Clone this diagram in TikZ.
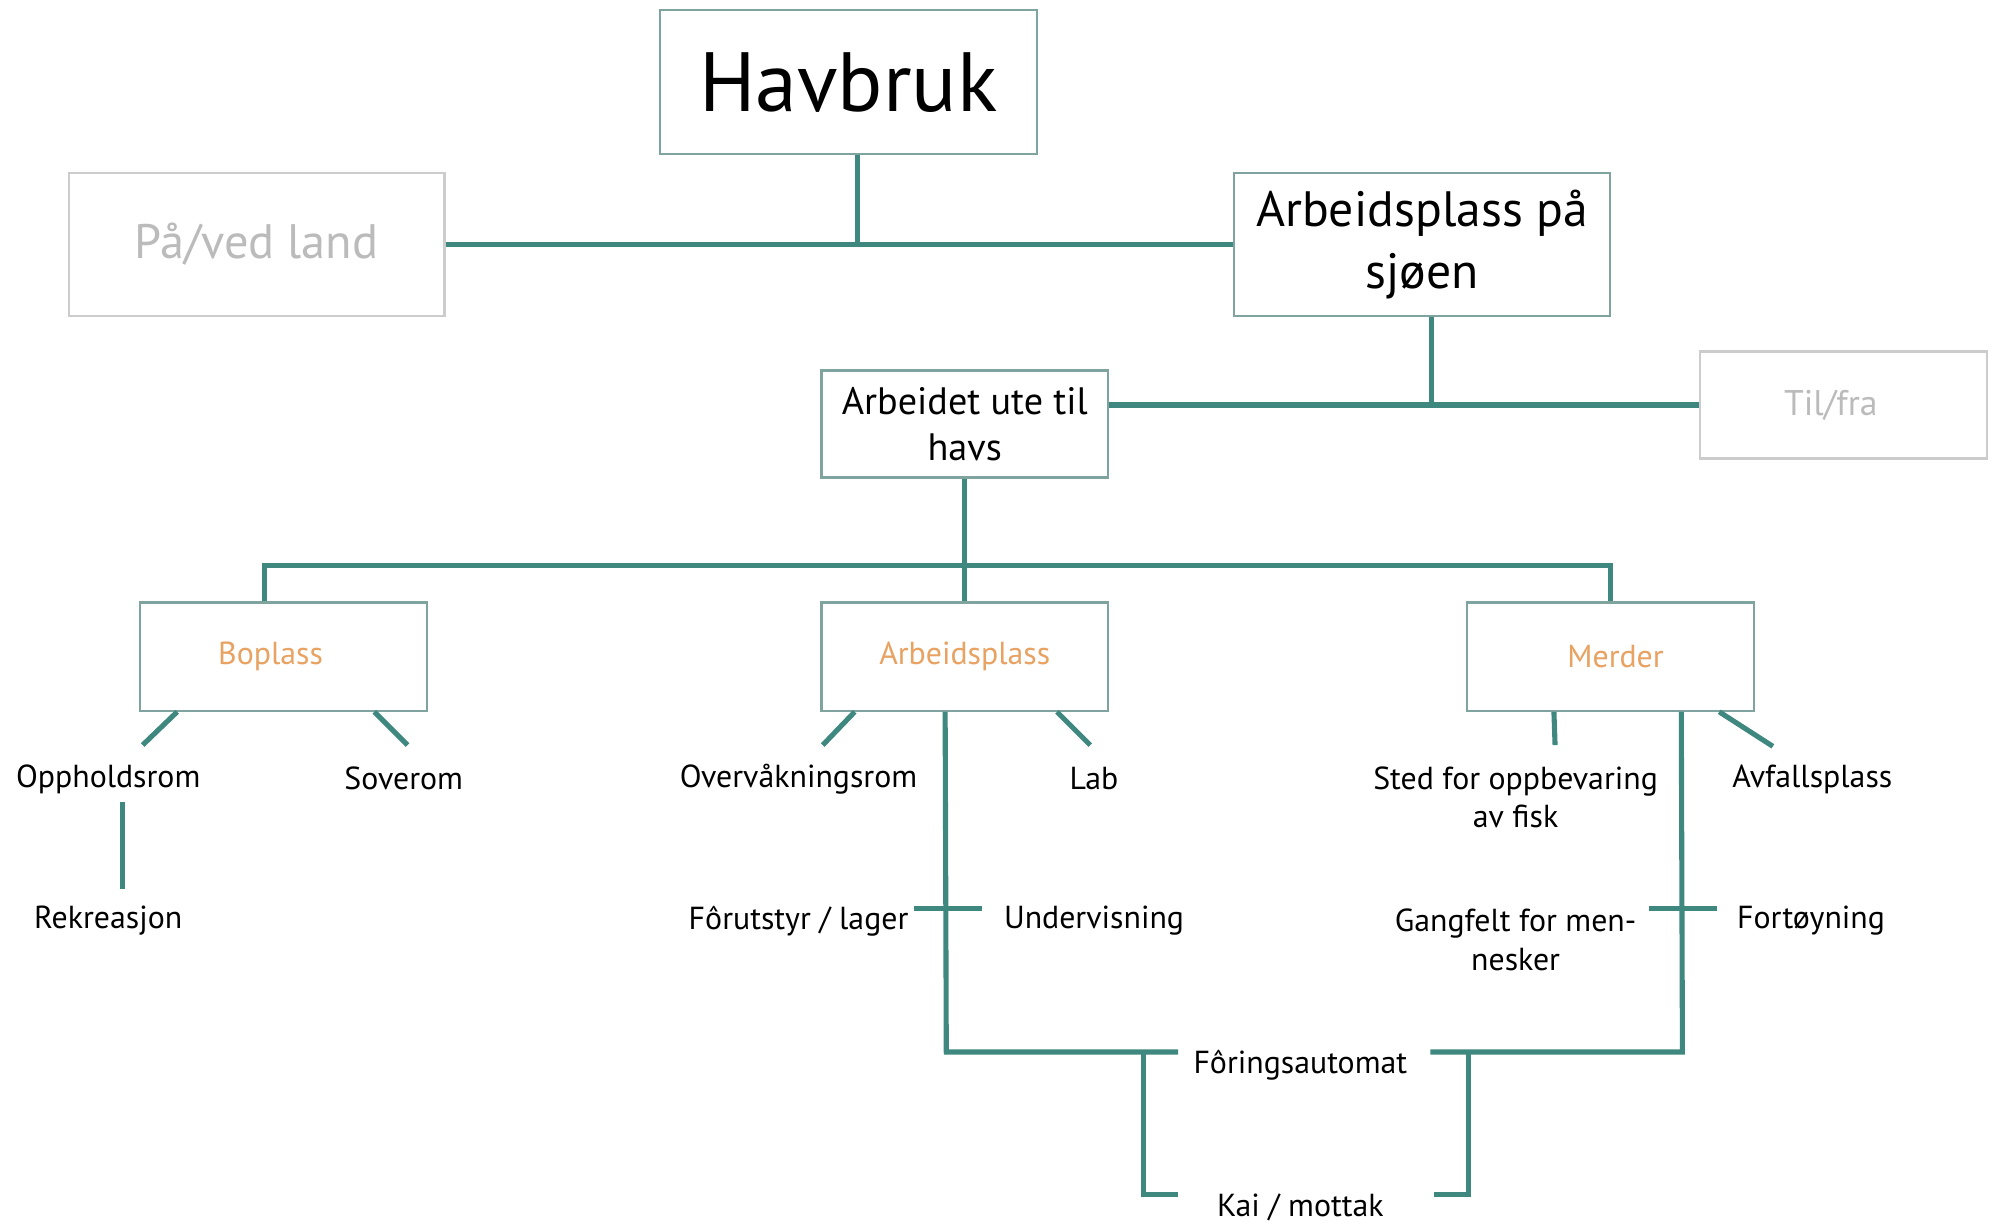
\documentclass[tikz,border=0pt]{standalone}
\usepackage{fontspec}
\setmainfont{PT Sans}
\definecolor{teal1}{HTML}{3F8880}
\definecolor{boxb}{HTML}{7FA39F}
\definecolor{grayb}{HTML}{CCCCCC}
\definecolor{grayt}{HTML}{BBBBBB}
\definecolor{orng}{HTML}{E8A262}
\begin{document}
\begin{tikzpicture}[x=0.5pt,y=-0.5pt,
  conn/.style={draw=teal1,line width=2pt},
  mainbox/.style={draw=boxb,line width=0.9pt,inner sep=0pt,align=center,text=black},
  greybox/.style={draw=grayb,line width=0.9pt,inner sep=0pt,align=center,text=grayt},
  subbox/.style={draw=boxb,line width=0.9pt,inner sep=0pt,align=center,text=orng,font=\fontsize{12.5}{15}\selectfont,minimum width=112.5pt,minimum height=42.5pt},
  lbl/.style={inner sep=0pt,align=center,font=\fontsize{12.5}{15}\selectfont,text=black}]
\useasboundingbox (0,0) rectangle (1568,960);
\fill[white] (0,0) rectangle (1568,960);
% boxes
\node[mainbox,minimum width=148pt,minimum height=56.5pt,font=\fontsize{33}{38}\selectfont] (hav) at (666,64.5) {Havbruk};
\node[greybox,minimum width=147.5pt,minimum height=56pt,font=\fontsize{19}{23}\selectfont] (land) at (201.5,192) {På/ved land};
\node[mainbox,minimum width=147.5pt,minimum height=56pt,font=\fontsize{19.5}{24}\selectfont] (sjo) at (1116.5,192) {Arbeidsplass på\\sjøen};
\node[mainbox,minimum width=112.5pt,minimum height=42pt,font=\fontsize{15}{18}\selectfont] (ute) at (757.5,333) {Arbeidet ute til\\havs};
\node[greybox,minimum width=112.5pt,minimum height=42pt,font=\fontsize{14}{17}\selectfont] (til) at (1447.5,318) {Til/fra\hspace*{10pt}};
\node[subbox] (bo) at (222.5,515.5) {Boplass\hspace*{10pt}};
\node[subbox] (arb) at (757.5,515.5) {Arbeidsplass};
\node[subbox] (mer) at (1264.5,515.5) {\hspace*{4pt}Merder};
% labels
\node[lbl] (opp) at (85,612) {Oppholdsrom};
\node[lbl] (sov) at (317,611) {Soverom};
\node[lbl] (rek) at (85,723) {Rekreasjon};
\node[lbl] (ovr) at (627,612) {Overvåkningsrom};
\node[lbl] (lab) at (859,611) {Lab};
\node[lbl] (for) at (627,723) {Fôrutstyr / lager};
\node[lbl] (und) at (859,723) {Undervisning};
\node[lbl] (sted) at (1190,626) {Sted for oppbevaring\\av fisk};
\node[lbl] (avf) at (1423,612) {Avfallsplass};
\node[lbl] (gang) at (1190,738) {Gangfelt for men-\\nesker};
\node[lbl] (fort) at (1422,723) {Fortøyning};
\node[lbl] (fauto) at (1021,836) {Fôringsautomat};
\node[lbl] (kai) at (1021,948) {Kai / mottak};
% free-end coordinates
\coordinate (e1) at (112,585);
\coordinate (e2) at (320,585);
\coordinate (r1) at (96,630);
\coordinate (r2) at (96,698);
\coordinate (e3) at (646,585);
\coordinate (e4) at (856,585);
\coordinate (e5) at (1221,585);
\coordinate (e6) at (1392,586);
\coordinate (lb) at (743,826);
\coordinate (lt) at (925,826);
\coordinate (lk1) at (898,826);
\coordinate (lk2) at (898,938);
\coordinate (lk3) at (925,938);
\coordinate (rb) at (1321,826);
\coordinate (rt) at (1123,826);
\coordinate (rk1) at (1153,826);
\coordinate (rk2) at (1153,938);
\coordinate (rk3) at (1126,938);
\coordinate (c1a) at (718,713);
\coordinate (c1b) at (771,713);
\coordinate (c2a) at (1295,713);
\coordinate (c2b) at (1348,713);
% connectors
\draw[conn] (land.east) -- (sjo.west);
\draw[conn] ([xshift=3.5pt]hav.south) -- ([xshift=3.5pt]hav.south |- land.east);
\draw[conn] (ute.east |- til.west) -- (til.west);
\draw[conn] ([xshift=3.75pt]sjo.south) -- ([xshift=3.75pt]sjo.south |- til.west);
\draw[conn] (ute.south) -- (arb.north);
\draw[conn] ([xshift=-7.25pt]bo.north) -- ++(0,-28) -| (mer.north);
\draw[conn] ([xshift=15pt]bo.south west) -- (e1);
\draw[conn] ([xshift=-21pt]bo.south east) -- (e2);
\draw[conn] (r1) -- (r2);
\draw[conn] ([xshift=13.5pt]arb.south west) -- (e3);
\draw[conn] ([xshift=-20.5pt]arb.south east) -- (e4);
\draw[conn] ([xshift=49pt]arb.south west) -- (lb) -- (lt);
\draw[conn] (lk1) -- (lk2) -- (lk3);
\draw[conn] ([xshift=34.5pt]mer.south west) -- (e5);
\draw[conn] ([xshift=-14pt]mer.south east) -- (e6);
\draw[conn] ([xshift=84.5pt]mer.south west) -- (rb) -- (rt);
\draw[conn] (rk1) -- (rk2) -- (rk3);
\draw[conn] (c1a) -- (c1b);
\draw[conn] (c2a) -- (c2b);
\end{tikzpicture}
\end{document}
